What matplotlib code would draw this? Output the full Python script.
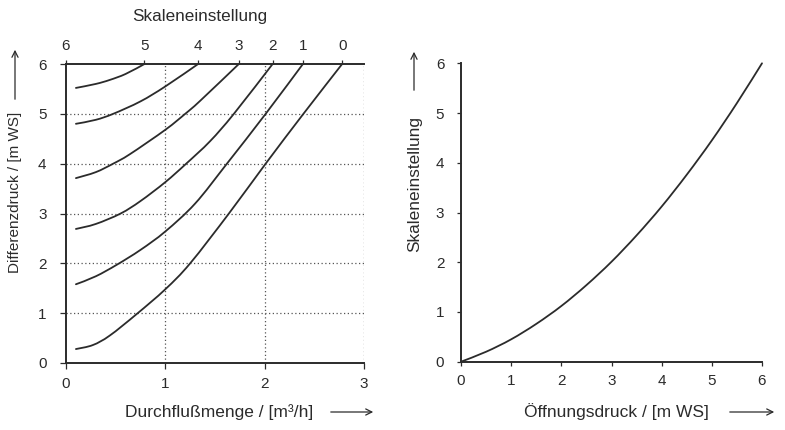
import matplotlib
matplotlib.use("Agg")
import matplotlib.pyplot as plt
from matplotlib.path import Path
from matplotlib.patches import PathPatch, FancyArrowPatch

plt.rcParams['font.family'] = ['Liberation Sans', 'DejaVu Sans']

# ---- Left panel data: Durchflußmenge vs Differenzdruck per Skaleneinstellung ----
settings = [0, 1, 2, 3, 4, 5]
flow_0 = [0.10, 0.27, 0.44, 0.71, 1.00, 1.25, 1.64, 2.01, 2.39, 2.78]
dp_0 = [0.28, 0.36, 0.55, 0.98, 1.48, 2.00, 3.00, 4.00, 5.00, 6.00]
flow_1 = [0.10, 0.30, 0.51, 0.75, 1.00, 1.30, 1.62, 2.01, 2.385]
dp_1 = [1.58, 1.74, 1.97, 2.27, 2.64, 3.20, 4.00, 5.00, 6.00]
flow_2 = [0.10, 0.30, 0.55, 0.75, 1.00, 1.21, 1.45, 1.69, 2.08]
dp_2 = [2.69, 2.79, 3.00, 3.25, 3.63, 4.00, 4.45, 5.00, 6.00]
flow_3 = [0.10, 0.30, 0.475, 0.643, 1.00, 1.20, 1.35, 1.74]
dp_3 = [3.71, 3.83, 4.00, 4.19, 4.68, 5.00, 5.26, 6.00]
flow_4 = [0.10, 0.30, 0.475, 0.75, 1.00, 1.33]
dp_4 = [4.80, 4.88, 5.00, 5.25, 5.55, 6.00]
flow_5 = [0.10, 0.30, 0.44, 0.60, 0.79]
dp_5 = [5.52, 5.60, 5.68, 5.80, 6.00]
curves_flow = [flow_0, flow_1, flow_2, flow_3, flow_4, flow_5]
curves_dp = [dp_0, dp_1, dp_2, dp_3, dp_4, dp_5]

# top scale: position of each setting at 6 m WS
top_tick_pos = [0.0, 0.79, 1.33, 1.74, 2.08, 2.385, 2.78]
top_tick_labels = ['6', '5', '4', '3', '2', '1', '0']

# ---- Right panel data: Öffnungsdruck vs Skaleneinstellung ----
open_press = [0, 0.5, 1, 1.5, 2, 2.5, 3, 3.5, 4, 4.5, 5, 5.5, 6]
scale_set = [0, 0.2, 0.45, 0.76, 1.12, 1.54, 2.01, 2.54, 3.12, 3.76, 4.45, 5.2, 6.0]

W, H = 785, 430
fig = plt.figure(figsize=(W / 100, H / 100), dpi=100)
fig.patch.set_facecolor('white')

ink = '#2b2b2b'
grid_c = '#555555'
fs = 11


def fx(px):
    return px / W


def fy(py):
    return 1 - py / H


def smooth_path(xs, ys):
    """Catmull-Rom curve through the given points, as a cubic Bezier path."""
    pts = list(zip(xs, ys))
    n = len(pts)
    verts = [pts[0]]
    codes = [Path.MOVETO]
    for i in range(n - 1):
        p0 = pts[i - 1] if i > 0 else pts[i]
        p1 = pts[i]
        p2 = pts[i + 1]
        p3 = pts[i + 2] if i + 2 < n else pts[i + 1]
        c1 = (p1[0] + (p2[0] - p0[0]) / 6, p1[1] + (p2[1] - p0[1]) / 6)
        c2 = (p2[0] - (p3[0] - p1[0]) / 6, p2[1] - (p3[1] - p1[1]) / 6)
        verts += [c1, c2, p2]
        codes += [Path.CURVE4] * 3
    return Path(verts, codes)


def draw_curve(ax, xs, ys):
    ax.add_patch(PathPatch(smooth_path(xs, ys), facecolor='none',
                           edgecolor=ink, lw=1.3, capstyle='round',
                           clip_on=False))


# ---------------- Left axes ----------------
axL = fig.add_axes([fx(66), fy(363), fx(364) - fx(66), fy(64) - fy(363)])
for f, d in zip(curves_flow, curves_dp):
    draw_curve(axL, f, d)
axL.set_xlim(0, 3)
axL.set_ylim(0, 6)
axL.set_xticks([0, 1, 2, 3])
axL.set_yticks([0, 1, 2, 3, 4, 5, 6])
for v in [1, 2, 3]:
    axL.axvline(v, color=grid_c, lw=0.9, ls=(0, (1, 2)), zorder=0)
for v in [1, 2, 3, 4, 5]:
    axL.axhline(v, color=grid_c, lw=0.9, ls=(0, (1, 2)), zorder=0)
axL.spines['right'].set_visible(False)
for s in ['left', 'bottom', 'top']:
    axL.spines[s].set_color(ink)
    axL.spines[s].set_linewidth(1.4)
axL.tick_params(axis='both', colors=ink, labelsize=fs, length=4, width=0.9,
                direction='out')
axL.tick_params(axis='y', pad=10)
axL.tick_params(axis='x', pad=6)

axT = axL.twiny()
axT.set_xlim(0, 3)
axT.set_xticks(top_tick_pos)
axT.set_xticklabels(top_tick_labels)
axT.tick_params(axis='x', colors=ink, labelsize=fs, length=3, width=0.9, pad=5)
for s in axT.spines.values():
    s.set_visible(False)

# ---------------- Right axes ----------------
axR = fig.add_axes([fx(461), fy(361.7), fx(762) - fx(461), fy(63.3) - fy(361.7)])
axR.set_xlim(0, 6)
axR.set_ylim(0, 6)
draw_curve(axR, open_press, scale_set)
axR.set_xticks(range(7))
axR.set_yticks(range(7))
axR.spines['right'].set_visible(False)
axR.spines['top'].set_visible(False)
for s in ['left', 'bottom']:
    axR.spines[s].set_color(ink)
    axR.spines[s].set_linewidth(1.4)
axR.tick_params(axis='both', colors=ink, labelsize=fs, length=3, width=0.9)
axR.tick_params(axis='y', pad=9)
axR.tick_params(axis='x', pad=6)

# ---------------- Labels ----------------
fig.text(fx(200), fy(16), 'Skaleneinstellung', ha='center', va='center',
         fontsize=12.3, color=ink)
fig.text(fx(125), fy(412), 'Durchflußmenge / [m³/h]', ha='left', va='center',
         fontsize=12.5, color=ink)
fig.text(fx(524), fy(412), 'Öffnungsdruck / [m WS]', ha='left', va='center',
         fontsize=12.5, color=ink)
fig.text(fx(15), fy(192), 'Differenzdruck / [m WS]', ha='center', va='center',
         rotation=90, fontsize=11, color=ink)
fig.text(fx(415), fy(184), 'Skaleneinstellung', ha='center', va='center',
         rotation=90, fontsize=12.4, color=ink)

arrow_kw = dict(arrowstyle='->', color=ink, lw=0.9, mutation_scale=11)
fig.add_artist(FancyArrowPatch(
    (fx(328), fy(412)), (fx(376), fy(412)), transform=fig.transFigure, **arrow_kw))
fig.add_artist(FancyArrowPatch(
    (fx(727), fy(412)), (fx(777), fy(412)), transform=fig.transFigure, **arrow_kw))
fig.add_artist(FancyArrowPatch(
    (fx(15), fy(102)), (fx(15), fy(47)), transform=fig.transFigure, **arrow_kw))
fig.add_artist(FancyArrowPatch(
    (fx(414), fy(93)), (fx(414), fy(49)), transform=fig.transFigure, **arrow_kw))

fig.savefig('out.png', dpi=100, facecolor='white')
